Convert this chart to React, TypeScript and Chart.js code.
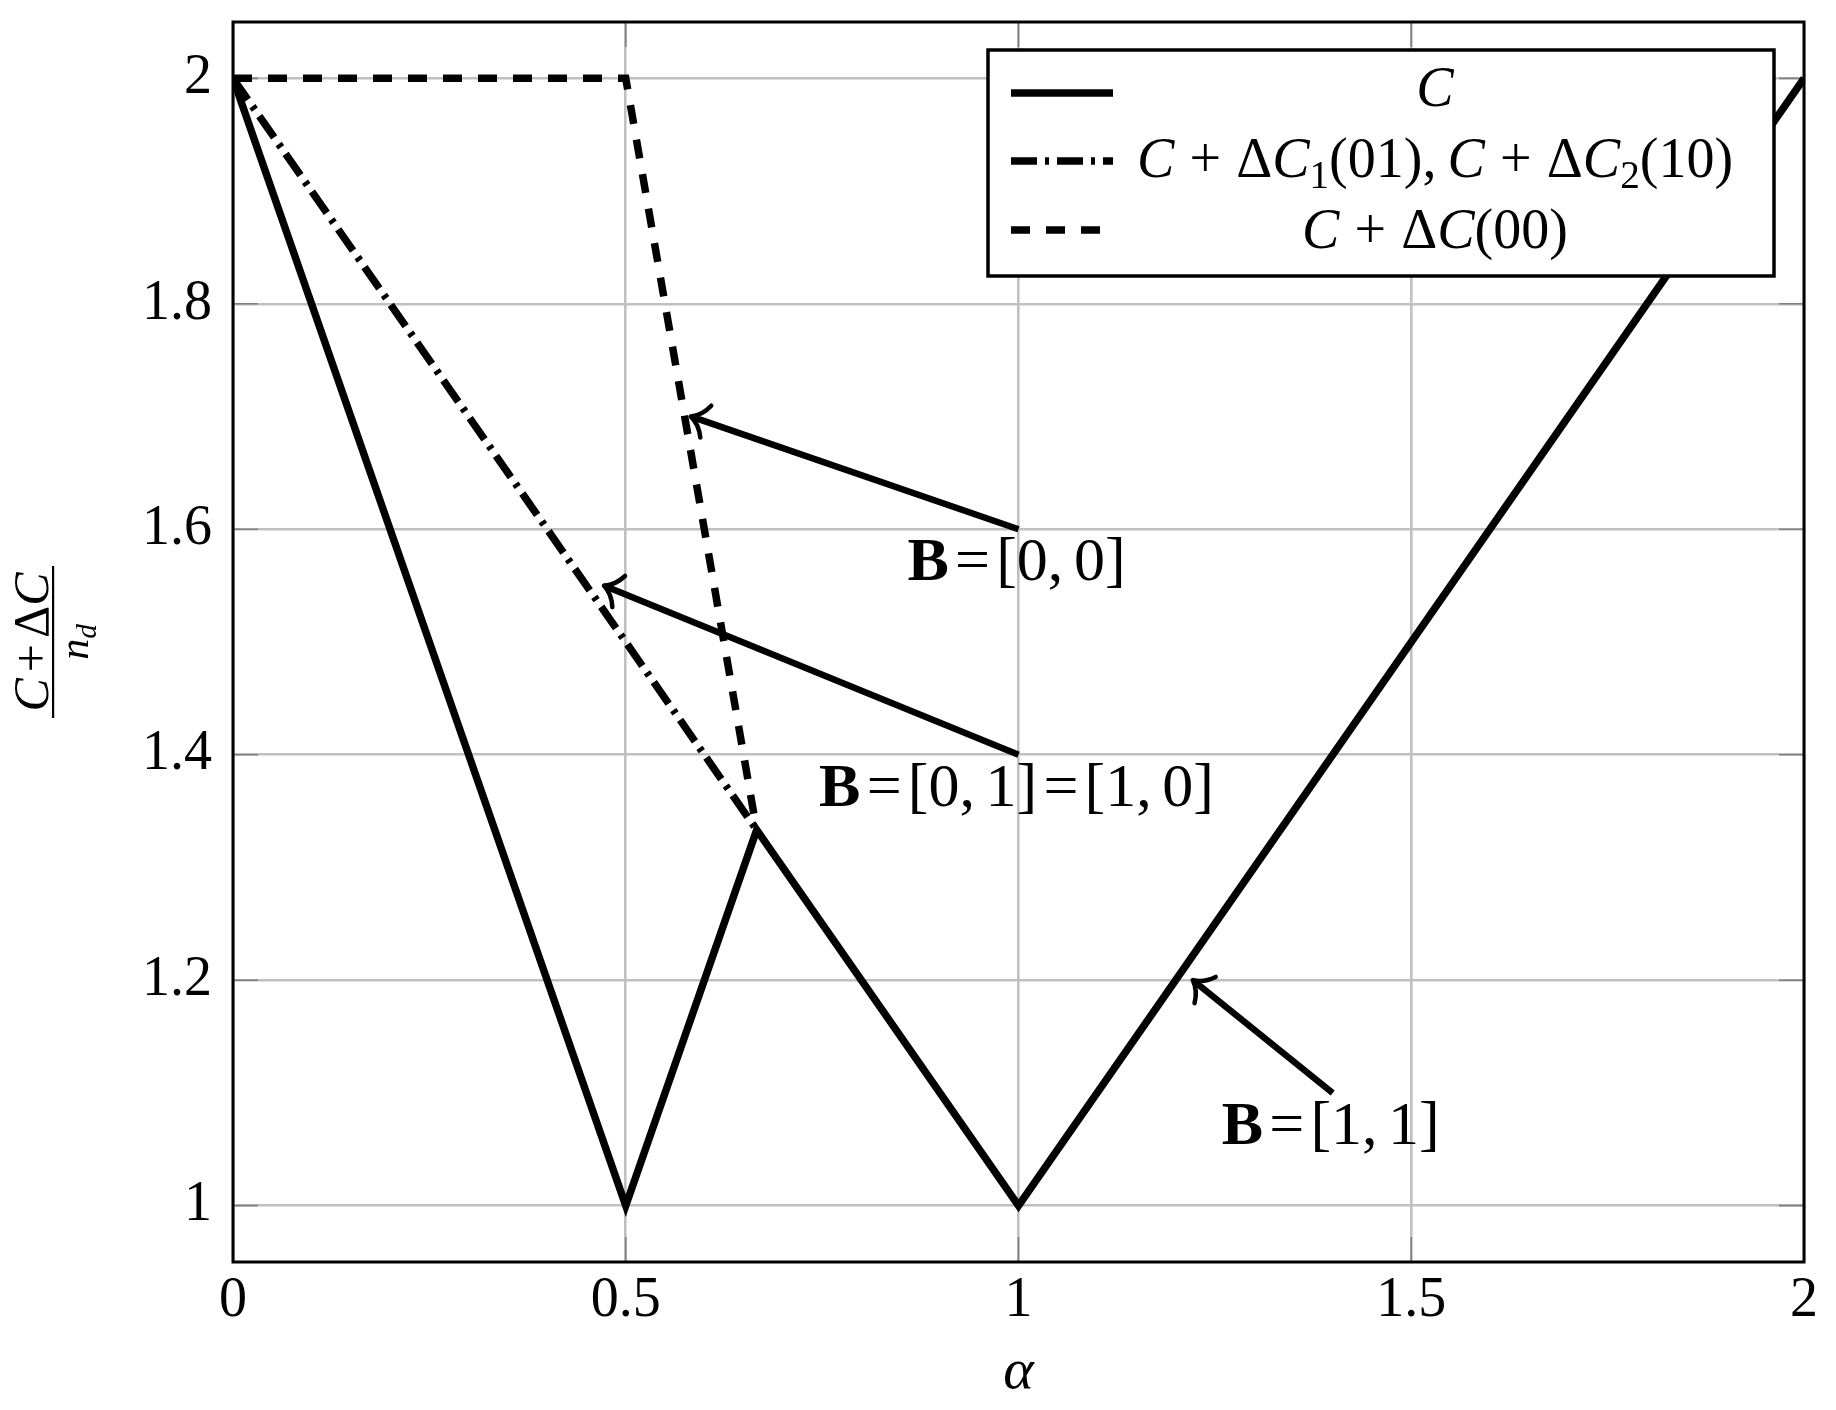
import React, { useEffect, useRef } from 'react';
import { Chart, registerables } from 'chart.js';

Chart.register(...registerables);

// ---------- data ----------
const xTicks = [0, 0.5, 1, 1.5, 2];
const yTicks = [1, 1.2, 1.4, 1.6, 1.8, 2];
const xMin = 0;
const xMax = 2;
const yMin = 0.95;
const yMax = 2.05;

const alphaC = [0, 0.5, 0.6667, 1, 2];
const costC = [2, 1, 1.3333, 1, 2];
const alphaDC1 = [0, 0.6667];
const costDC1 = [2, 1.3333];
const alphaDC00 = [0, 0.5, 0.6667];
const costDC00 = [2, 2, 1.3333];

const seriesLabels = ['C', 'C + ΔC_1(01), C + ΔC_2(10)', 'C + ΔC(00)'];

const annTailX = [1, 1, 1.4];
const annTailY = [1.6, 1.4, 1.1];
const annHeadX = [0.583, 0.4725, 1.222];
const annHeadY = [1.7, 1.55, 1.2];
const annText = ['B=[0, 0]', 'B=[0, 1]=[1, 0]', 'B=[1, 1]'];

const xTitle = 'α';
const yTitleNum = 'C+ΔC';
const yTitleDen = 'n_d';

// ---------- styling ----------
const FAMILY = '"Liberation Serif", "Times New Roman", serif';
const TICK_SIZE = 56;
const LEGEND_SIZE = 56;
const ANN_SIZE = 62;
const GRID = '#c0c0c0';
const LINE_W = 7.5;
const DASH_DOT = [26, 8, 4, 8];
const DASHED = [19, 16];

type Item = { t?: string; italic?: boolean; bold?: boolean; sub?: boolean; gap?: number };

function toItems(s: string, opGap: number, relGap: number, commaGap: number): Item[] {
  const items: Item[] = [];
  for (let i = 0; i < s.length; i++) {
    const c = s[i];
    if (c === ' ') continue;
    if (c === '_') {
      const n = s[i + 1];
      items.push({ t: n, italic: /[a-z]/i.test(n), sub: true });
      i++;
      continue;
    }
    if (c === '+') {
      items.push({ gap: opGap }, { t: '+' }, { gap: opGap });
      continue;
    }
    if (c === '=') {
      items.push({ gap: relGap }, { t: '=' }, { gap: relGap });
      continue;
    }
    if (c === ',') {
      items.push({ t: ',' }, { gap: commaGap });
      continue;
    }
    if (c === 'B') {
      items.push({ t: c, bold: true });
      continue;
    }
    if (/[A-Za-zα]/.test(c)) {
      items.push({ t: c, italic: true });
      continue;
    }
    items.push({ t: c });
  }
  return items;
}

function drawMath(
  ctx: CanvasRenderingContext2D,
  s: string,
  x: number,
  y: number,
  size: number,
  align: 'left' | 'center' | 'right',
  gaps: { op: number; rel: number; comma: number }
) {
  const items = toItems(s, gaps.op, gaps.rel, gaps.comma);
  let w = 0;
  const laid: { x: number; t?: string; font?: string; dy: number }[] = [];
  for (const it of items) {
    if (it.gap !== undefined) {
      w += it.gap * size;
      continue;
    }
    const sz = it.sub ? size * 0.7 : size;
    const font = `${it.italic ? 'italic ' : ''}${it.bold ? 'bold ' : ''}${sz}px ${FAMILY}`;
    ctx.font = font;
    const ww = ctx.measureText(it.t || '').width;
    laid.push({ x: w, t: it.t, font, dy: it.sub ? size * 0.2 : 0 });
    w += ww;
  }
  const x0 = align === 'center' ? x - w / 2 : align === 'right' ? x - w : x;
  ctx.textAlign = 'left';
  ctx.textBaseline = 'alphabetic';
  ctx.fillStyle = '#000';
  for (const r of laid) {
    ctx.font = r.font as string;
    ctx.fillText(r.t as string, x0 + r.x, y + r.dy);
  }
  return w;
}

function drawArrow(ctx: CanvasRenderingContext2D, x1: number, y1: number, x2: number, y2: number) {
  ctx.save();
  ctx.strokeStyle = '#000';
  ctx.lineWidth = 6.5;
  ctx.lineCap = 'butt';
  ctx.setLineDash([]);
  const back = Math.atan2(y1 - y2, x1 - x2);
  ctx.beginPath();
  ctx.moveTo(x1, y1);
  ctx.lineTo(x2 + Math.cos(back) * 2, y2 + Math.sin(back) * 2);
  ctx.stroke();
  ctx.lineWidth = 4.5;
  ctx.lineCap = 'round';
  const L = 23;
  const spread = 0.82;
  for (const s of [-1, 1]) {
    const a = back + s * spread;
    const ex = x2 + L * Math.cos(a);
    const ey = y2 + L * Math.sin(a);
    const ca = back + s * spread * 0.55;
    const cx = x2 + L * 0.5 * Math.cos(ca);
    const cy = y2 + L * 0.5 * Math.sin(ca);
    ctx.beginPath();
    ctx.moveTo(x2, y2);
    ctx.quadraticCurveTo(cx, cy, ex, ey);
    ctx.stroke();
  }
  ctx.restore();
}

const decor = {
  id: 'decor',
  beforeDatasetsDraw(chart: any) {
    const { ctx, chartArea: ca, scales } = chart;
    ctx.save();
    ctx.strokeStyle = '#808080';
    ctx.lineWidth = 1.6;
    const tl = 25;
    for (const v of xTicks) {
      const px = scales.x.getPixelForValue(v);
      ctx.beginPath();
      ctx.moveTo(px, ca.bottom);
      ctx.lineTo(px, ca.bottom - tl);
      ctx.moveTo(px, ca.top);
      ctx.lineTo(px, ca.top + tl);
      ctx.stroke();
    }
    for (const v of yTicks) {
      const py = scales.y.getPixelForValue(v);
      ctx.beginPath();
      ctx.moveTo(ca.left, py);
      ctx.lineTo(ca.left + tl, py);
      ctx.moveTo(ca.right, py);
      ctx.lineTo(ca.right - tl, py);
      ctx.stroke();
    }
    ctx.restore();
  },
  afterDatasetsDraw(chart: any) {
    const { ctx, chartArea: ca, scales } = chart;
    const xs = scales.x;
    const ys = scales.y;
    ctx.save();

    // frame
    ctx.strokeStyle = '#000';
    ctx.lineWidth = 3;
    ctx.setLineDash([]);
    ctx.strokeRect(ca.left, ca.top, ca.right - ca.left, ca.bottom - ca.top);

    // annotations
    for (let i = 0; i < annText.length; i++) {
      const tx = xs.getPixelForValue(annTailX[i]);
      const ty = ys.getPixelForValue(annTailY[i]);
      const hx = xs.getPixelForValue(annHeadX[i]);
      const hy = ys.getPixelForValue(annHeadY[i]);
      drawArrow(ctx, tx, ty, hx, hy);
      drawMath(ctx, annText[i], tx - 2, ty + 51, ANN_SIZE, 'center', { op: 0.2, rel: 0.1, comma: 0.17 });
    }

    // legend
    const lw = 786;
    const lh = 226;
    const lx = ca.right - 30 - lw;
    const ly = ca.top + 28;
    ctx.fillStyle = '#fff';
    ctx.fillRect(lx, ly, lw, lh);
    ctx.strokeStyle = '#000';
    ctx.lineWidth = 3.5;
    ctx.strokeRect(lx, ly, lw, lh);
    const baselines = [56, 127, 198];
    const lineYs = [43, 111, 180];
    const ds = chart.data.datasets;
    for (let i = 0; i < ds.length; i++) {
      ctx.save();
      ctx.strokeStyle = '#000';
      ctx.lineWidth = LINE_W;
      ctx.lineCap = 'butt';
      ctx.setLineDash(ds[i].borderDash || []);
      ctx.beginPath();
      ctx.moveTo(lx + 23, ly + lineYs[i]);
      ctx.lineTo(lx + 125, ly + lineYs[i]);
      ctx.stroke();
      ctx.restore();
      drawMath(ctx, ds[i].label, lx + 447, ly + baselines[i], LEGEND_SIZE, 'center', { op: 0.27, rel: 0.25, comma: 0.2 });
    }

    // x title
    ctx.font = `italic 58px ${FAMILY}`;
    ctx.fillStyle = '#000';
    ctx.textAlign = 'center';
    ctx.textBaseline = 'alphabetic';
    ctx.fillText(xTitle, (ca.left + ca.right) / 2, 1388);

    // y title (fraction, rotated)
    ctx.save();
    ctx.translate(ca.left - 180, (ca.top + ca.bottom) / 2);
    ctx.rotate(-Math.PI / 2);
    drawMath(ctx, yTitleNum, 0, -5, 50, 'center', { op: 0.12, rel: 0.1, comma: 0.1 });
    ctx.fillStyle = '#000';
    ctx.fillRect(-76, -1, 152, 2.2);
    drawMath(ctx, yTitleDen, 0, 35, 42, 'center', { op: 0.1, rel: 0.1, comma: 0.1 });
    ctx.restore();

    ctx.restore();
  },
};

export default function App() {
  const ref = useRef<HTMLCanvasElement | null>(null);
  useEffect(() => {
    document.body.style.margin = '0';
    document.body.style.overflow = 'hidden';
    const canvas = ref.current;
    if (!canvas) return;
    const tickFont = { family: FAMILY, size: TICK_SIZE };
    const chart = new Chart(canvas, {
      type: 'scatter',
      data: {
        datasets: [
          {
            label: seriesLabels[0],
            data: alphaC.map((x, i) => ({ x, y: costC[i] })),
            borderColor: '#000',
            backgroundColor: '#000',
            borderWidth: LINE_W,
            borderDash: [],
            showLine: true,
            pointRadius: 0,
            borderJoinStyle: 'miter',
            borderCapStyle: 'butt',
            order: 3,
          },
          {
            label: seriesLabels[1],
            data: alphaDC1.map((x, i) => ({ x, y: costDC1[i] })),
            borderColor: '#000',
            backgroundColor: '#000',
            borderWidth: LINE_W,
            borderDash: DASH_DOT,
            showLine: true,
            pointRadius: 0,
            borderCapStyle: 'butt',
            order: 2,
          },
          {
            label: seriesLabels[2],
            data: alphaDC00.map((x, i) => ({ x, y: costDC00[i] })),
            borderColor: '#000',
            backgroundColor: '#000',
            borderWidth: LINE_W,
            borderDash: DASHED,
            showLine: true,
            pointRadius: 0,
            borderJoinStyle: 'miter',
            borderCapStyle: 'butt',
            order: 1,
          },
        ],
      } as any,
      options: {
        animation: false,
        responsive: false,
        maintainAspectRatio: false,
        layout: { padding: { left: 0, right: 32, top: 22, bottom: 0 } },
        plugins: { legend: { display: false }, tooltip: { enabled: false } },
        scales: {
          x: {
            type: 'linear',
            min: xMin,
            max: xMax,
            afterBuildTicks: (axis: any) => {
              axis.ticks = xTicks.map((v) => ({ value: v }));
            },
            afterFit: (axis: any) => {
              axis.height = 148;
              axis.paddingLeft = 0;
              axis.paddingRight = 0;
            },
            grid: { color: GRID, lineWidth: 2.6, drawTicks: false },
            border: { display: false },
            ticks: {
              font: tickFont,
              color: '#000',
              padding: 6,
              maxRotation: 0,
              autoSkip: false,
              callback: (v: any) => String(v),
            },
          },
          y: {
            type: 'linear',
            min: yMin,
            max: yMax,
            afterBuildTicks: (axis: any) => {
              axis.ticks = yTicks.map((v) => ({ value: v }));
            },
            afterFit: (axis: any) => {
              axis.width = 233;
              axis.paddingTop = 0;
              axis.paddingBottom = 0;
            },
            grid: { color: GRID, lineWidth: 2.6, drawTicks: false },
            border: { display: false },
            ticks: {
              font: tickFont,
              color: '#000',
              padding: 21,
              autoSkip: false,
              callback: (v: any) => String(v),
            },
          },
        },
      } as any,
      plugins: [decor],
    });
    return () => chart.destroy();
  }, []);
  return <canvas ref={ref} width={1836} height={1410} style={{ display: 'block' }} />;
}
